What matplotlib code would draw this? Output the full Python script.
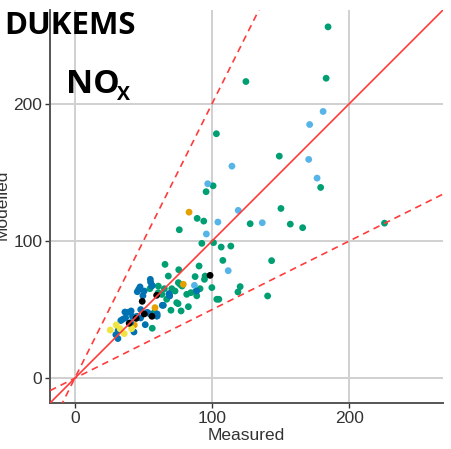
import numpy as np
import matplotlib.pyplot as plt

# measured / modelled NOx, grouped by colour
green_x = [184.4, 183.0, 148.9, 179.0, 150.1, 127.7, 156.9, 165.9, 225.5, 143.3, 140.4, 124.6,
           103.1, 100.7, 95.6, 89.1, 93.9, 76.1, 92.5, 101.0, 106.6, 113.6, 107.8, 65.7, 75.7,
           90.5, 94.9, 87.6, 68.1, 94.4, 75.4, 76.6, 99.8, 120.4, 118.8, 104.9, 73.0, 81.5, 84.5,
           88.8, 75.2, 82.7, 78.1, 87.8, 77.4, 70.0, 60.8, 65.2, 70.6, 66.9, 74.2, 60.8, 56.4,
           54.7, 91.2, 103.4, 63.5, 58.0]
green_y = [255.8, 218.4, 161.7, 138.9, 123.6, 112.5, 112.2, 109.6, 112.9, 85.6, 59.9, 216.0,
           178.0, 140.1, 135.8, 116.4, 114.4, 108.1, 98.2, 98.7, 95.5, 96.2, 85.8, 82.9, 79.0,
           81.7, 74.4, 74.0, 74.4, 72.0, 69.6, 68.4, 66.0, 66.7, 62.8, 57.5, 63.5, 61.1, 62.3,
           60.0, 54.3, 52.1, 67.1, 63.0, 49.0, 49.5, 67.1, 65.2, 65.2, 57.5, 55.0, 62.3, 36.4,
           65.2, 65.2, 57.5, 61.0, 48.0]

sky_x = [180.8, 171.0, 170.3, 176.4, 136.5, 114.4, 96.8, 119.0, 104.2, 95.8, 111.7, 87.1]
sky_y = [194.2, 184.7, 159.3, 145.7, 113.2, 154.4, 141.6, 122.2, 113.7, 105.0, 78.3, 67.6]

blue_x = [55.0, 46.5, 47.5, 45.5, 49.6, 56.4, 64.5, 68.8, 52.8, 60.0, 54.7, 38.9, 36.5, 35.0,
          37.0, 33.5, 40.6, 45.3, 51.3, 43.1, 31.6, 29.9, 31.4, 47.9, 60.0, 68.6, 63.7, 88.8,
          55.2, 56.0, 69.1, 48.0, 42.0, 59.6, 50.5, 41.0]
blue_y = [72.0, 64.7, 66.5, 63.0, 60.1, 67.6, 53.1, 60.8, 48.0, 45.3, 46.8, 48.0, 48.2, 43.0,
          44.0, 42.0, 40.5, 45.1, 39.0, 33.7, 34.9, 31.7, 28.9, 43.9, 46.8, 61.6, 53.1, 63.5,
          70.0, 67.1, 59.9, 50.0, 45.0, 45.3, 63.5, 49.0]

orange_x = [83.2, 79.0, 58.4, 43.3]
orange_y = [120.9, 68.4, 51.4, 38.8]

black_x = [98.5, 49.1, 59.6, 50.6, 44.7, 56.2, 39.6]
black_y = [74.9, 56.0, 60.4, 46.8, 43.6, 45.1, 40.0]

yellow_x = [25.8, 30.2, 36.0, 41.4, 33.0]
yellow_y = [35.1, 38.8, 32.5, 36.1, 36.0]

lims = (-18, 268)

plt.rcParams['font.family'] = ['Liberation Sans', 'DejaVu Sans']
fig = plt.figure(figsize=(4.51, 4.49), dpi=100)
ax = fig.add_axes([0.111, 0.1025, 0.871, 0.875])

ax.grid(True, color='#d0d0d0', lw=1.4, zorder=0)
ax.set_axisbelow(True)

groups = [(green_x, green_y, '#009E73'), (sky_x, sky_y, '#56B4E9'),
          (orange_x, orange_y, '#E69F00'), (blue_x, blue_y, '#0072B2'),
          (yellow_x, yellow_y, '#F0E442'), (black_x, black_y, 'black')]
for gx, gy, c in groups:
    ax.scatter(gx, gy, s=24, color=c, edgecolors='none', zorder=3)

# 1:1 line and factor-of-2 lines
line = np.array(lims)
ax.plot(line, line, color='#ff3b3b', lw=1.2, zorder=4)
ax.plot(line, 2 * line, color='#ff3b3b', lw=1.2, ls=(0, (4, 3)), zorder=4)
ax.plot(line, 0.5 * line, color='#ff3b3b', lw=1.2, ls=(0, (4, 3)), zorder=4)

ax.set_xlim(lims)
ax.set_ylim(lims)
ax.set_xticks([0, 100, 200])
ax.set_yticks([0, 100, 200])
ax.tick_params(labelsize=12.5, length=3.5, width=1, color='#333333', labelcolor='#333333', pad=2)
for s in ['top', 'right']:
    ax.spines[s].set_visible(False)
for s in ['left', 'bottom']:
    ax.spines[s].set_color('#555555')
    ax.spines[s].set_linewidth(1.4)

ax.set_xlabel('Measured', fontsize=12.5, color='#333333', labelpad=2)
fig.text(10 / 451, 0.543, 'Modelled', rotation=90, fontsize=12.5, color='#333333',
         ha='right', va='center')

fig.text(4 / 451, 1 - 34 / 449, 'DUKEMS', fontsize=22.5, fontweight='bold',
         family='Open Sans', va='baseline', ha='left')
fig.text(66 / 451, 1 - 93 / 449, 'NO', fontsize=24, fontweight='bold',
         family='Open Sans', va='baseline', ha='left')
fig.text(117 / 451, 1 - 100 / 449, 'X', fontsize=14, fontweight='bold',
         family='Open Sans', va='baseline', ha='left')

fig.savefig('out.png', dpi=100)
